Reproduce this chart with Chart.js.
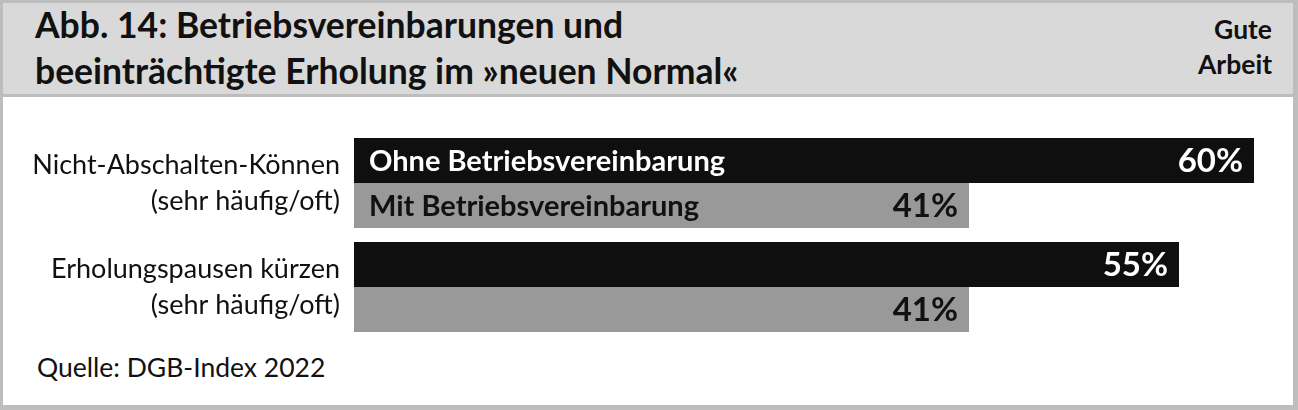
<!DOCTYPE html>
<html lang="de">
<head>
<meta charset="utf-8">
<script src="https://cdn.jsdelivr.net/npm/chart.js@4/dist/chart.umd.min.js"></script>
<style>
	body { margin: 0; background: #ffffff; }
	#frame { position: relative; width: 1298px; height: 410px; background: #bdbdbd; overflow: hidden; }
	#inner { position: absolute; left: 3px; top: 3px; width: 1290px; height: 402px; background: #ffffff; }
	#head { position: absolute; left: 0; top: 0; width: 1290px; height: 91px; background: #d9d9d9; border-bottom: 3px solid #bdbdbd; }
	#title { position: absolute; left: 32px; top: -1px; font: bold 35.5px Lato, sans-serif; line-height: 45.5px; color: #111; white-space: nowrap; }
	#brand { position: absolute; right: 21px; top: 9px; font: bold 26.5px Lato, sans-serif; line-height: 35px; color: #111; text-align: right; }
	#chartBox { position: absolute; left: 0; top: 94px; }
	#source { position: absolute; left: 34px; top: 349px; font: 26.5px Lato, sans-serif; line-height: 30px; color: #111; }
</style>
</head>
<body>
<div id="frame">
	<div id="inner">
		<div id="head">
			<div id="title">Abb. 14: Betriebsvereinbarungen und<br>beeinträchtigte Erholung im »neuen Normal«</div>
			<div id="brand">Gute<br>Arbeit</div>
		</div>
		<div id="chartBox"><canvas id="chartErholung" width="1290" height="250"></canvas></div>
		<div id="source">Quelle: DGB-Index 2022</div>
	</div>
</div>
<script>
// Daten aus der Abbildung
const kategorien = [
	["Nicht-Abschalten-Können", "(sehr häufig/oft)"],
	["Erholungspausen kürzen", "(sehr häufig/oft)"],
];
const serien = ["Ohne Betriebsvereinbarung", "Mit Betriebsvereinbarung"];
const ohneBV = [60, 55];
const mitBV = [41, 41];
const farben = ["#0f0f0f", "#999999"];
const textFarben = ["#ffffff", "#111111"];

const barLabels = {
	id: "barLabels",
	afterDatasetsDraw(chart) {
		const ctx = chart.ctx;
		ctx.save();
		ctx.textBaseline = "middle";
		chart.data.datasets.forEach((ds, i) => {
			const meta = chart.getDatasetMeta(i);
			meta.data.forEach((bar, j) => {
				ctx.fillStyle = textFarben[i];
				ctx.font = "bold 33px Lato, sans-serif";
				ctx.textAlign = "right";
				ctx.fillText(ds.data[j] + "%", bar.x - 11, bar.y + 1);
				if (j === 0) {
					ctx.font = "bold 29px Lato, sans-serif";
					ctx.textAlign = "left";
					ctx.fillText(ds.label, bar.base + 15, bar.y + 1);
				}
			});
		});
		ctx.restore();
	},
};

new Chart(document.getElementById("chartErholung"), {
	type: "bar",
	data: {
		labels: kategorien,
		datasets: [
			{ label: serien[0], data: ohneBV, backgroundColor: farben[0] },
			{ label: serien[1], data: mitBV, backgroundColor: farben[1] },
		],
	},
	options: {
		responsive: false,
		animation: false,
		indexAxis: "y",
		layout: { padding: { top: 34, bottom: 8, left: 0, right: 39 } },
		datasets: { bar: { categoryPercentage: 0.865, barPercentage: 1 } },
		plugins: { legend: { display: false }, tooltip: { enabled: false } },
		scales: {
			x: { display: false, min: 0, max: 60 },
			y: {
				grid: { display: false, drawTicks: false },
				border: { display: false },
				afterFit: (scale) => {
					scale.width = 351;
					scale.paddingTop = 0;
					scale.paddingBottom = 0;
				},
				ticks: {
					padding: 14,
					color: "#111111",
					font: { family: "Lato", size: 27, lineHeight: 1.333 },
				},
			},
		},
	},
	plugins: [barLabels],
});
</script>
</body>
</html>
